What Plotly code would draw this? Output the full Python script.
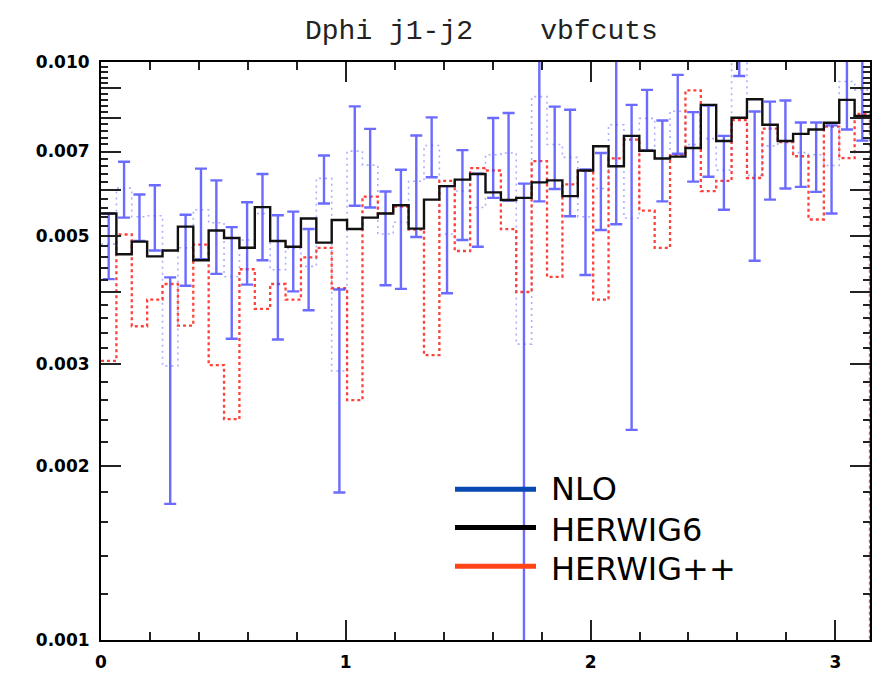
import numpy as np
import plotly.graph_objects as go

# ---------------- data ----------------
N_BINS = 50
X_MAX = np.pi
Y_MIN, Y_MAX = 0.001, 0.010

herwig6 = [0.00547, 0.00465, 0.00489, 0.00461, 0.00472, 0.00519, 0.00454, 0.00511, 0.00496, 0.00477,
           0.00561, 0.00490, 0.00479, 0.00536, 0.00487, 0.00533, 0.00514, 0.00538, 0.00547, 0.00565,
           0.00515, 0.00578, 0.00610, 0.00626, 0.00640, 0.00595, 0.00577, 0.00582, 0.00619, 0.00624,
           0.00586, 0.00649, 0.00715, 0.00660, 0.00745, 0.00702, 0.00681, 0.00686, 0.00710, 0.00843,
           0.00730, 0.00801, 0.00862, 0.00779, 0.00730, 0.00751, 0.00764, 0.00785, 0.00860, 0.00807]

herwigpp = [0.00304, 0.00503, 0.00349, 0.00388, 0.00413, 0.00350, 0.00483, 0.00299, 0.00241, 0.00438,
            0.00374, 0.00413, 0.00388, 0.00459, 0.00477, 0.00406, 0.00260, 0.00585, 0.00547, 0.00562,
            0.00513, 0.00311, 0.00623, 0.00471, 0.00655, 0.00649, 0.00514, 0.00400, 0.00674, 0.00425,
            0.00614, 0.00648, 0.00388, 0.00681, 0.00734, 0.00553, 0.00477, 0.00689, 0.00893, 0.00598,
            0.00623, 0.00793, 0.00630, 0.00767, 0.00727, 0.00687, 0.00534, 0.00773, 0.00682, 0.00813]

nlo = [0.00484, 0.00605, 0.00540, 0.00542, 0.00298, 0.00477, 0.00555, 0.00527, 0.00425, 0.00492,
       0.00547, 0.00437, 0.00476, 0.00443, 0.00629, 0.00292, 0.00701, 0.00663, 0.00504, 0.00528,
       0.00622, 0.00717, 0.00504, 0.00598, 0.00560, 0.00691, 0.00696, 0.00325, 0.00871, 0.00720,
       0.00684, 0.00540, 0.00604, 0.00779, 0.00537, 0.00799, 0.00683, 0.00822, 0.00720, 0.00737,
       0.00650, 0.01060, 0.00637, 0.00716, 0.00731, 0.00697, 0.00691, 0.00662, 0.00925, 0.00895]

nlo_err = [0.00063, 0.00067, 0.00050, 0.00070, 0.00126, 0.00067, 0.00099, 0.00097, 0.00093, 0.00080,
           0.00093, 0.00106, 0.00075, 0.00071, 0.00060, 0.00112, 0.00137, 0.00103, 0.00093, 0.00123,
           0.00124, 0.00085, 0.00106, 0.00106, 0.00081, 0.00109, 0.00120, 0.00291, 0.00297, 0.00117,
           0.00143, 0.00112, 0.00092, 0.00255, 0.00306, 0.00096, 0.00109, 0.00128, 0.00099, 0.00104,
           0.00095, 0.00114, 0.00184, 0.00138, 0.00127, 0.00089, 0.00095, 0.00115, 0.00161, 0.00164]

y_tick_vals = [0.001, 0.002, 0.003, 0.004, 0.005, 0.006, 0.007, 0.008, 0.009, 0.010]
y_tick_text = ["0.001", "0.002", "0.003", "", "0.005", "", "0.007", "", "", "0.010"]
x_tick_vals = [0, 1, 2, 3]
x_tick_text = ["0", "1", "2", "3"]

legend_names = ["NLO", "HERWIG6", "HERWIG++"]
legend_colors = ["#0a48b4", "#000000", "#ff4518"]

title_text = "Dphi j1-j2\u00a0\u00a0\u00a0\u00a0vbfcuts"

# ---------------- build ----------------
edges = np.linspace(0, X_MAX, N_BINS + 1)
centers = 0.5 * (edges[:-1] + edges[1:])


def step_xy(vals, drop=False):
    x = list(edges[:-1]) + [X_MAX]
    y = list(vals) + [vals[-1]]
    if drop:
        x += [X_MAX]
        y += [Y_MIN]
    return x, y


fig = go.Figure()

# NLO central value: faint dotted step line
x, y = step_xy(nlo, drop=True)
fig.add_trace(go.Scatter(x=x, y=y, mode="lines", line_shape="hv",
                         line=dict(color="rgba(120,120,255,0.6)", width=1.6, dash="2px,4px"),
                         showlegend=False, hoverinfo="skip"))

# HERWIG++ dotted red step line
x, y = step_xy(herwigpp, drop=True)
fig.add_trace(go.Scatter(x=x, y=y, mode="lines", line_shape="hv",
                         line=dict(color="rgba(255,45,35,0.9)", width=2.3, dash="3px,3px"),
                         showlegend=False, hoverinfo="skip"))

# NLO error bars
fig.add_trace(go.Scatter(x=centers, y=nlo, mode="markers",
                         marker=dict(size=2, opacity=0),
                         error_y=dict(type="data", array=nlo_err, symmetric=True,
                                      color="rgba(70,70,255,0.8)", thickness=2.4, width=6),
                         showlegend=False, hoverinfo="skip"))

# HERWIG6 solid black step line
x, y = step_xy(herwig6)
fig.add_trace(go.Scatter(x=x, y=y, mode="lines", line_shape="hv",
                         line=dict(color="#111111", width=2.4),
                         showlegend=False, hoverinfo="skip"))

# ---------------- layout ----------------
L, R, T, B = 101, 18, 62, 42
W, H = 888, 684
PW, PH = W - L - R, H - T - B


def px2paper(px, py):
    return (px - L) / PW, (H - B - py) / PH


tick_font = dict(family="DejaVu Sans", size=17, color="black", weight="bold")

fig.update_layout(
    width=W, height=H,
    margin=dict(l=L, r=R, t=T, b=B, pad=0),
    paper_bgcolor="white", plot_bgcolor="white",
    showlegend=False,
    xaxis=dict(range=[0, X_MAX], showgrid=False, zeroline=False,
               showline=True, linecolor="black", linewidth=2, mirror="allticks",
               ticks="inside", ticklen=20, tickwidth=2, tickcolor="#222",
               tickvals=x_tick_vals, ticktext=x_tick_text, tickfont=tick_font,
               ticklabelstandoff=6,
               minor=dict(ticks="inside", ticklen=8, tickwidth=2, tickcolor="#222",
                          dtick=0.2, tick0=0, showgrid=False)),
    yaxis=dict(type="log", range=[np.log10(Y_MIN), np.log10(Y_MAX)],
               showgrid=False, zeroline=False,
               showline=True, linecolor="black", linewidth=2, mirror="allticks",
               ticks="inside", ticklen=20, tickwidth=2, tickcolor="#222",
               tickvals=y_tick_vals, ticktext=y_tick_text, tickfont=tick_font,
               ticklabelstandoff=6,
               minor=dict(ticks="inside", ticklen=7, tickwidth=2, tickcolor="#222",
                          tickvals=[k * 0.0002 for k in range(5, 51) if k % 5 != 0],
                          showgrid=False)),
)

# title
tx, ty = px2paper(481, 31)
fig.add_annotation(text=title_text, x=tx, y=ty, xref="paper", yref="paper",
                   xanchor="center", yanchor="middle", showarrow=False,
                   font=dict(family="Liberation Mono", size=28, color="#222"))

# custom legend
line_y = [490.7, 529, 568]
text_y = [490, 532, 571]
for name, col, ly, tyy in zip(legend_names, legend_colors, line_y, text_y):
    x0, y0 = px2paper(455, ly)
    x1, _ = px2paper(536, ly)
    fig.add_shape(type="line", xref="paper", yref="paper", x0=x0, x1=x1, y0=y0, y1=y0,
                  line=dict(color=col, width=5))
    tx, tyv = px2paper(549, tyy)
    fig.add_annotation(text=name, x=tx, y=tyv, xref="paper", yref="paper",
                       xanchor="left", yanchor="middle", showarrow=False,
                       font=dict(family="DejaVu Sans", size=32, color="black"))

fig.write_html("out.html")
